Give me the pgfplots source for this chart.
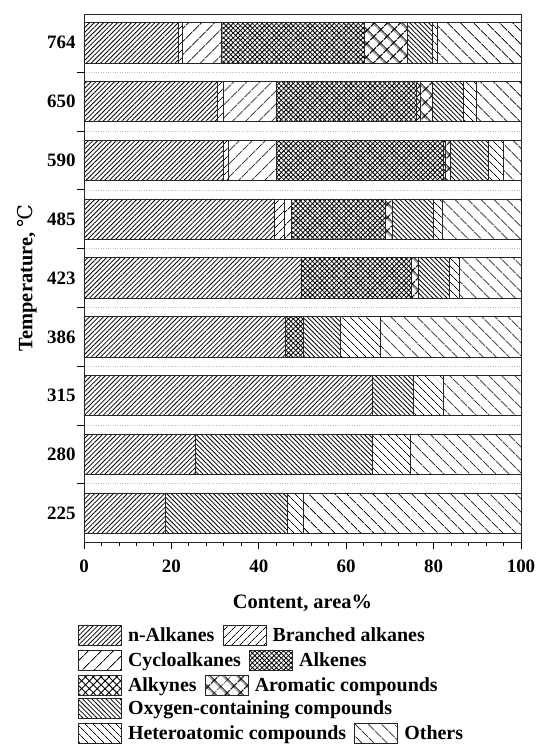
\documentclass[border=0pt]{standalone}
\usepackage{fontspec}
\setmainfont{Liberation Serif}
\newfontfamily\dejavu{DejaVu Serif}
\usepackage{pgfplots}
\pgfplotsset{compat=1.18}
\usepackage{pgfplotstable}
\usetikzlibrary{patterns.meta}

\pgfplotstableread{
pos nalk branched cyclo alkenes alkynes aromatic oxygen hetero others
0 18.7 0 0 0 0 0 27.8 3.7 49.8
1 25.6 0 0 0 0 0 40.5 8.7 25.2
2 66.1 0 0 0 0 0 9.3 6.8 17.8
3 46.0 0 0 4.2 0 0 8.4 9.3 32.1
4 49.8 0 0 25.2 0 1.5 7.1 2.4 14.0
5 43.5 2.3 1.7 21.5 0 1.5 9.4 2.2 17.9
6 32.0 1.0 11.1 38.1 0.6 1.0 8.7 3.4 4.1
7 30.6 1.3 12.2 31.9 1.0 2.7 7.1 3.1 10.1
8 21.6 1.0 8.9 32.6 0 9.9 5.7 1.2 19.1
}\datatable

\tikzset{
  pbase/.style={pattern color=black},
  pn/.style={pbase,pattern={Lines[angle=45,distance=3.3bp,line width=0.8bp]}},
  pb/.style={pbase,pattern={Lines[angle=45,distance=6bp,line width=0.9bp]}},
  pc/.style={pbase,pattern={Lines[angle=45,distance=10bp,line width=1bp]}},
  pe/.style={pbase,pattern={Hatch[angle=45,distance=3.4bp,line width=0.8bp]}},
  py/.style={pbase,pattern={Hatch[angle=45,distance=5.5bp,line width=0.9bp]}},
  pa/.style={pbase,pattern={Hatch[angle=45,distance=10bp,line width=1.4bp]}},
  po/.style={pbase,pattern={Lines[angle=-45,distance=3.3bp,line width=0.8bp]}},
  ph/.style={pbase,pattern={Lines[angle=-45,distance=6bp,line width=0.9bp]}},
  pt/.style={pbase,pattern={Lines[angle=-45,distance=10bp,line width=1bp]}},
  lbox/.style={draw=black!85,line width=0.8bp,minimum width=43bp,minimum height=20bp,inner sep=0pt},
  ltxt/.style={inner sep=0pt,text height=15bp,text depth=2bp,font=\bfseries\fontsize{20}{20}\selectfont}
}

\begin{document}
\begin{tikzpicture}
\begin{axis}[
  at={(0,0)}, anchor=north west,
  scale only axis, width=437bp, height=528bp,
  xbar stacked, bar width=0.69,
  xmin=0, xmax=100, ymin=-0.49, ymax=8.49,
  xtick={0,20,...,100}, minor x tick num=4,
  ytick={0.5,1.5,...,7.5}, yticklabels={},
  extra y ticks={0,...,8},
  extra y tick labels={225,280,315,386,423,485,590,650,764},
  extra y tick style={major tick length=0pt, grid=none},
  ymajorgrids=true,
  major grid style={black!25, dotted, line width=0.6bp},
  xtick pos=bottom, ytick pos=left,
  tick align=outside,
  major tick length=7bp, minor tick length=4bp,
  tick style={black, line width=0.9bp},
  axis line style={black!85, line width=0.9bp},
  /pgf/number format/assume math mode=true,
  ticklabel style={font=\bfseries\fontsize{19}{19}\selectfont},
  xticklabel style={yshift=-7bp},
  yticklabel style={xshift=-5bp},
  xlabel={Content, area\%},
  ylabel={Temperature, {\dejavu\mdseries ℃}},
  label style={font=\bfseries\fontsize{20.5}{20.5}\selectfont},
  xlabel style={at={(axis description cs:0.5,-0.1155)}, anchor=center},
  ylabel style={at={(axis description cs:-0.1304,0.5)}, anchor=center},
  every axis plot/.append style={draw=black!85, line width=0.8bp},
]
\addplot[pn] table[x=nalk,y=pos]{\datatable};
\addplot[pb] table[x=branched,y=pos]{\datatable};
\addplot[pc] table[x=cyclo,y=pos]{\datatable};
\addplot[pe] table[x=alkenes,y=pos]{\datatable};
\addplot[py] table[x=alkynes,y=pos]{\datatable};
\addplot[pa] table[x=aromatic,y=pos]{\datatable};
\addplot[po] table[x=oxygen,y=pos]{\datatable};
\addplot[ph] table[x=hetero,y=pos]{\datatable};
\addplot[pt] table[x=others,y=pos]{\datatable};
\end{axis}
% legend
\node[lbox,pn,anchor=west] (a1) at (-6bp,-621bp) {};
\node[ltxt,anchor=west] (t1) at ([xshift=6bp]a1.east) {n-Alkanes};
\node[lbox,pb,anchor=west] (a2) at ([xshift=8bp]t1.east) {};
\node[ltxt,anchor=west] (t2) at ([xshift=6bp]a2.east) {Branched alkanes};
\node[lbox,pc,anchor=west] (b1) at (-6bp,-646bp) {};
\node[ltxt,anchor=west] (u1) at ([xshift=6bp]b1.east) {Cycloalkanes};
\node[lbox,pe,anchor=west] (b2) at ([xshift=8bp]u1.east) {};
\node[ltxt,anchor=west] (u2) at ([xshift=6bp]b2.east) {Alkenes};
\node[lbox,py,anchor=west] (c1) at (-6bp,-671bp) {};
\node[ltxt,anchor=west] (v1) at ([xshift=6bp]c1.east) {Alkynes};
\node[lbox,pa,anchor=west] (c2) at ([xshift=8bp]v1.east) {};
\node[ltxt,anchor=west] (v2) at ([xshift=6bp]c2.east) {Aromatic compounds};
\node[lbox,po,anchor=west] (d1) at (-6bp,-694bp) {};
\node[ltxt,anchor=west] (w1) at ([xshift=6bp]d1.east) {Oxygen-containing compounds};
\node[lbox,ph,anchor=west] (e1) at (-6bp,-719bp) {};
\node[ltxt,anchor=west] (x1) at ([xshift=6bp]e1.east) {Heteroatomic compounds};
\node[lbox,pt,anchor=west] (e2) at ([xshift=8bp]x1.east) {};
\node[ltxt,anchor=west] (x2) at ([xshift=6bp]e2.east) {Others};
\pgfresetboundingbox
\path[use as bounding box] (-84bp,14bp) rectangle (455bp,-733bp);
\end{tikzpicture}
\end{document}
